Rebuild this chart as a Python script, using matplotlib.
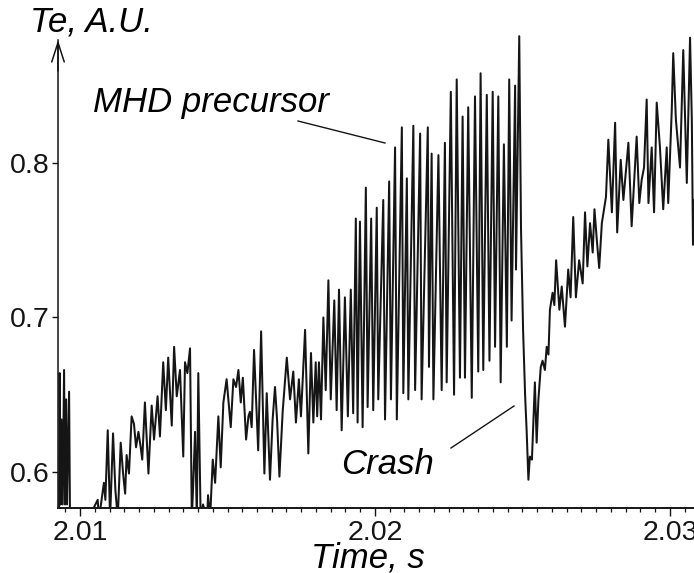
import matplotlib
matplotlib.use("Agg")
import matplotlib.pyplot as plt
from matplotlib.ticker import FixedLocator, MultipleLocator, FixedFormatter
from matplotlib.lines import Line2D

# ---- data ----
time_s = [
    2.00929, 2.00931, 2.00934, 2.00937, 2.00941, 2.00946, 2.00949, 2.00953, 2.00956, 2.00963,
    2.00966, 2.00970, 2.01000, 2.01034, 2.01060, 2.01064, 2.01071, 2.01081, 2.01086, 2.01094,
    2.01102, 2.01112, 2.01120, 2.01128, 2.01138, 2.01146, 2.01153, 2.01158, 2.01166, 2.01175,
    2.01183, 2.01190, 2.01198, 2.01205, 2.01211, 2.01220, 2.01232, 2.01243, 2.01251, 2.01263,
    2.01271, 2.01282, 2.01291, 2.01299, 2.01311, 2.01319, 2.01328, 2.01339, 2.01350, 2.01356,
    2.01364, 2.01373, 2.01379, 2.01383, 2.01390, 2.01396, 2.01401, 2.01409, 2.01417, 2.01431,
    2.01434, 2.01441, 2.01450, 2.01458, 2.01469, 2.01477, 2.01486, 2.01497, 2.01511, 2.01520,
    2.01529, 2.01537, 2.01545, 2.01552, 2.01563, 2.01571, 2.01576, 2.01582, 2.01590, 2.01597,
    2.01604, 2.01614, 2.01625, 2.01633, 2.01644, 2.01653, 2.01661, 2.01668, 2.01676, 2.01687,
    2.01701, 2.01712, 2.01723, 2.01732, 2.01742, 2.01749, 2.01763, 2.01774, 2.01783, 2.01791,
    2.01799, 2.01804, 2.01810, 2.01817, 2.01825, 2.01833, 2.01842, 2.01850, 2.01862, 2.01870,
    2.01878, 2.01887, 2.01898, 2.01908, 2.01918, 2.01926, 2.01935, 2.01941, 2.01949, 2.01958,
    2.01969, 2.01975, 2.01987, 2.01994, 2.02006, 2.02011, 2.02028, 2.02034, 2.02048, 2.02054,
    2.02068, 2.02074, 2.02091, 2.02096, 2.02108, 2.02113, 2.02130, 2.02136, 2.02153, 2.02158,
    2.02179, 2.02183, 2.02192, 2.02198, 2.02215, 2.02226, 2.02237, 2.02243, 2.02257, 2.02268,
    2.02277, 2.02288, 2.02297, 2.02305, 2.02316, 2.02328, 2.02339, 2.02350, 2.02358, 2.02367,
    2.02379, 2.02388, 2.02399, 2.02407, 2.02418, 2.02426, 2.02437, 2.02447, 2.02455, 2.02463,
    2.02475, 2.02478, 2.02489, 2.02495, 2.02502, 2.02509, 2.02514, 2.02520, 2.02525, 2.02532,
    2.02542, 2.02548, 2.02554, 2.02562, 2.02568, 2.02576, 2.02582, 2.02588, 2.02593, 2.02602,
    2.02608, 2.02614, 2.02625, 2.02633, 2.02644, 2.02655, 2.02663, 2.02672, 2.02681, 2.02692,
    2.02704, 2.02712, 2.02720, 2.02729, 2.02738, 2.02744, 2.02752, 2.02760, 2.02769, 2.02783,
    2.02791, 2.02803, 2.02814, 2.02821, 2.02833, 2.02842, 2.02859, 2.02870, 2.02887, 2.02896,
    2.02904, 2.02912, 2.02921, 2.02927, 2.02938, 2.02946, 2.02955, 2.02966, 2.02977, 2.02989,
    2.02994, 2.03006, 2.03011, 2.03020, 2.03034, 2.03041, 2.03045, 2.03057, 2.03068, 2.03074,
    2.03078, 2.03081,
]
te_au = [
    0.570, 0.664, 0.579, 0.634, 0.579, 0.666, 0.579, 0.647, 0.579, 0.652,
    0.572, 0.568, 0.570, 0.572, 0.582, 0.570, 0.579, 0.593, 0.582, 0.627,
    0.570, 0.625, 0.588, 0.570, 0.619, 0.599, 0.586, 0.611, 0.599, 0.636,
    0.631, 0.616, 0.626, 0.617, 0.608, 0.645, 0.599, 0.643, 0.621, 0.649,
    0.623, 0.671, 0.640, 0.674, 0.630, 0.681, 0.649, 0.666, 0.610, 0.671,
    0.664, 0.680, 0.570, 0.588, 0.626, 0.570, 0.664, 0.570, 0.579, 0.570,
    0.585, 0.570, 0.608, 0.593, 0.636, 0.603, 0.645, 0.660, 0.629, 0.660,
    0.655, 0.666, 0.645, 0.661, 0.621, 0.636, 0.639, 0.629, 0.679, 0.647,
    0.614, 0.691, 0.599, 0.651, 0.595, 0.634, 0.655, 0.634, 0.597, 0.639,
    0.674, 0.647, 0.665, 0.632, 0.660, 0.636, 0.692, 0.612, 0.677, 0.632,
    0.671, 0.636, 0.671, 0.634, 0.700, 0.653, 0.724, 0.647, 0.711, 0.640,
    0.718, 0.627, 0.713, 0.636, 0.718, 0.638, 0.764, 0.632, 0.762, 0.629,
    0.784, 0.642, 0.764, 0.640, 0.771, 0.647, 0.776, 0.634, 0.788, 0.647,
    0.810, 0.634, 0.823, 0.651, 0.790, 0.647, 0.824, 0.653, 0.819, 0.647,
    0.823, 0.668, 0.806, 0.647, 0.805, 0.653, 0.813, 0.658, 0.846, 0.650,
    0.854, 0.661, 0.830, 0.661, 0.836, 0.648, 0.843, 0.665, 0.858, 0.666,
    0.844, 0.672, 0.846, 0.681, 0.843, 0.658, 0.812, 0.681, 0.854, 0.698,
    0.850, 0.731, 0.882, 0.757, 0.692, 0.649, 0.627, 0.595, 0.610, 0.608,
    0.658, 0.619, 0.647, 0.668, 0.672, 0.666, 0.681, 0.676, 0.705, 0.716,
    0.708, 0.737, 0.705, 0.720, 0.694, 0.731, 0.713, 0.765, 0.713, 0.737,
    0.722, 0.768, 0.733, 0.761, 0.742, 0.770, 0.750, 0.732, 0.761, 0.778,
    0.815, 0.768, 0.826, 0.755, 0.802, 0.776, 0.813, 0.759, 0.817, 0.774,
    0.789, 0.797, 0.841, 0.774, 0.810, 0.768, 0.839, 0.810, 0.770, 0.810,
    0.774, 0.834, 0.871, 0.828, 0.797, 0.847, 0.873, 0.787, 0.881, 0.828,
    0.747, 0.776,
]
x_ticks = [2.01, 2.02, 2.03]
x_tick_labels = ["2.01", "2.02", "2.03"]
y_ticks = [0.6, 0.7, 0.8]
y_tick_labels = ["0.6", "0.7", "0.8"]

plt.rcParams["font.family"] = ["Liberation Sans", "DejaVu Sans"]

W, H = 694, 573
fig = plt.figure(figsize=(W / 100, H / 100), dpi=100)

y_bottom, y_axis_top, y_lim_top = 0.57671, 0.8795, 0.89
x_left, x_right = 2.009254, 2.030814
ax = fig.add_axes([58 / W, 65 / H, 636 / W, (y_lim_top - y_bottom) / 0.000647 / H])
ax.plot(time_s, te_au, color="#151515", lw=1.45)
ax.set_xlim(x_left, x_right)
ax.set_ylim(y_bottom, y_lim_top)

for s in ("top", "right"):
    ax.spines[s].set_visible(False)
ax.spines["left"].set_bounds(y_bottom, y_axis_top)
ax.spines["left"].set_linewidth(1.1)
ax.spines["bottom"].set_linewidth(1.4)
ax.spines["left"].set_color("#151515")
ax.spines["bottom"].set_color("#151515")

ax.xaxis.set_major_locator(FixedLocator(x_ticks))
ax.xaxis.set_major_formatter(FixedFormatter(x_tick_labels))
ax.xaxis.set_minor_locator(MultipleLocator(0.0005))
ax.yaxis.set_major_locator(FixedLocator(y_ticks))
ax.yaxis.set_major_formatter(FixedFormatter(y_tick_labels))
ax.tick_params(axis="x", which="major", direction="out", length=5.5, width=1.0,
               pad=3, labelsize=20.5, colors="#151515")
ax.tick_params(axis="x", which="minor", direction="out", length=3, width=0.9,
               colors="#151515")
ax.tick_params(axis="y", which="major", direction="out", length=4, width=1.0,
               pad=2, labelsize=20.5, colors="#151515")

# arrow head on the y axis
ax.annotate("", xy=(0, y_axis_top), xytext=(0, y_axis_top - 0.02),
            xycoords=ax.get_yaxis_transform(), textcoords=ax.get_yaxis_transform(),
            arrowprops=dict(arrowstyle="->,head_length=1.4,head_width=0.45",
                            lw=1.1, color="#151515", shrinkA=0, shrinkB=0),
            annotation_clip=False)

def fx(px):
    return px / W

def fy(py):
    return 1 - py / H

fs = 25
fig.text(fx(30), fy(32), "Te, A.U.", fontsize=fs, fontstyle="italic", va="baseline", ha="left")
fig.text(fx(93), fy(112), "MHD precursor", fontsize=fs, fontstyle="italic", va="baseline", ha="left")
fig.text(fx(341), fy(474), "Crash", fontsize=fs, fontstyle="italic", va="baseline", ha="left")
fig.text(fx(368), fy(567), "Time, s", fontsize=fs, fontstyle="italic", va="baseline", ha="center")

fig.add_artist(Line2D([fx(298), fx(385)], [fy(121), fy(143)], color="#151515", lw=1.0))
fig.add_artist(Line2D([fx(451), fx(514)], [fy(448), fy(406)], color="#151515", lw=1.0))

fig.savefig("out.png", dpi=100)
